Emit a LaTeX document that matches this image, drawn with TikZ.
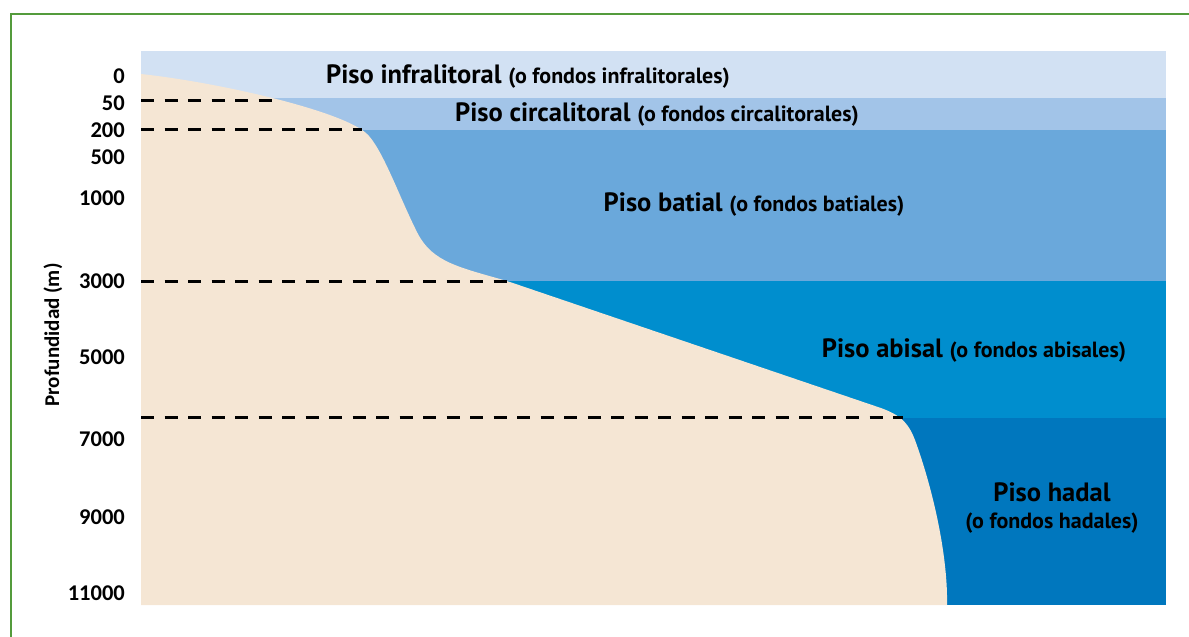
\documentclass[tikz,border=0pt]{standalone}
\usepackage{fontspec}
\setmainfont{Carlito}
\newfontfamily\bandfont{PT Sans}
\definecolor{infra}{RGB}{210,225,243}
\definecolor{circa}{RGB}{162,196,232}
\definecolor{batial}{RGB}{106,168,219}
\definecolor{abisal}{RGB}{0,142,206}
\definecolor{hadal}{RGB}{0,119,190}
\definecolor{arena}{RGB}{245,230,212}
\definecolor{marco}{RGB}{84,155,60}
\newcommand{\pequeno}{\fontsize{22}{25}\selectfont}
\tikzset{
  depthlabel/.style={anchor=east,inner sep=0pt,font=\fontsize{22.5}{26}\selectfont\bfseries},
  zonelabel/.style={inner sep=0pt,align=center,font=\bandfont\bfseries\fontsize{26.5}{30}\selectfont},
  limit/.style={line width=3pt,dash pattern=on 13pt off 10.5pt}
}

\begin{document}
\begin{tikzpicture}[x=1pt,y=-1pt]
\useasboundingbox (0,0) rectangle (1189,637);
\draw [marco,line width=1.5pt] (11,637) -- (11,14) -- (1189,14);

\fill [infra] (141,51) rectangle (1166,98);
\fill [circa] (141,98) rectangle (1166,130);
\fill [batial] (141,130) rectangle (1166,281);
\fill [abisal] (141,281) rectangle (1166,418);
\fill [hadal] (141,418) rectangle (1166,605);

\coordinate (p50) at (272,100);
\coordinate (p200) at (362,129);
\coordinate (p3000) at (507,281);
\coordinate (p6500) at (903,417);
\fill [arena] (141,74) .. controls (215,82) and (330,108) .. (362,130)
  .. controls (380,140) and (398,195) .. (418,234)
  .. controls (433,262) and (458,267) .. (507,281)
  -- (875,406) .. controls (900,414) and (908,422) .. (915,440)
  .. controls (935,495) and (948,560) .. (947,605)
  -- (141,605) -- cycle;

\draw [limit] (141,100) -- (p50);
\draw [limit] (141,129) -- (p200);
\draw [limit] (141,281) -- (p3000);
\draw [limit] (141,417) -- (p6500);

\node [depthlabel] (d0) at (125,76) {0};
\node [depthlabel] (d50) at (125,103) {50};
\node [depthlabel] (d200) at (125,130) {200};
\node [depthlabel] (d500) at (125,157) {500};
\node [depthlabel] (d1000) at (125,198) {1000};
\node [depthlabel] (d3000) at (125,281) {3000};
\node [depthlabel] (d5000) at (125,357) {5000};
\node [depthlabel] (d7000) at (125,439) {7000};
\node [depthlabel] (d9000) at (125,517) {9000};
\node [depthlabel] (d11000) at (125,593) {11000};
\node [rotate=90,inner sep=0pt,font=\fontsize{21}{24}\selectfont\bfseries] (ejey) at (53,335) {Profundidad (m)};

\node [zonelabel] (infralitoral) at (528,76) {Piso infralitoral {\pequeno(o fondos infralitorales)}};
\node [zonelabel] (circalitoral) at (657,114) {Piso circalitoral {\pequeno(o fondos circalitorales)}};
\node [zonelabel] (batial) at (754,204) {Piso batial {\pequeno(o fondos batiales)}};
\node [zonelabel] (abisal) at (974,350) {Piso abisal {\pequeno(o fondos abisales)}};
\node [zonelabel] (hadal) at (1052,508) {Piso hadal\\[-3pt]{\pequeno(o fondos hadales)}};
\end{tikzpicture}
\end{document}
